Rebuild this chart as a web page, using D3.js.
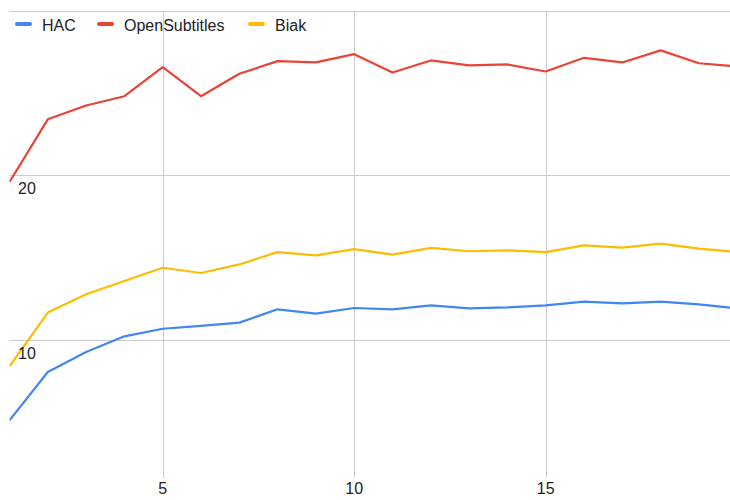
<!DOCTYPE html>
<html>
<head>
<meta charset="utf-8">
<script src="https://cdn.jsdelivr.net/npm/d3@7"></script>
<style>
  html, body { margin: 0; padding: 0; background: #fff; }
  svg { display: block; font-family: Arial, "Liberation Sans", sans-serif; }
</style>
</head>
<body>
<svg id="chart" width="730" height="500"></svg>
<script>
// ---- data ----
const xValues = [1,2,3,4,5,6,7,8,9,10,11,12,13,14,15,16,17,18,19,20];
const seriesNames = ["HAC", "OpenSubtitles", "Biak"];
const hac = [5.15, 8.08, 9.29, 10.24, 10.7, 10.87, 11.07, 11.88, 11.62, 11.96,
             11.88, 12.12, 11.94, 12.0, 12.12, 12.35, 12.24, 12.35, 12.18, 11.94];
const openSubtitles = [19.6, 23.4, 24.24, 24.8, 26.56, 24.8, 26.16, 26.93, 26.85, 27.35,
                       26.24, 26.97, 26.67, 26.73, 26.3, 27.13, 26.85, 27.58, 26.8, 26.6];
const biak = [8.42, 11.68, 12.79, 13.6, 14.4, 14.08, 14.6, 15.35, 15.15, 15.53,
              15.2, 15.6, 15.4, 15.45, 15.35, 15.76, 15.62, 15.86, 15.56, 15.36];
const xTicks = [5, 10, 15];
const yTicks = [10, 20, 30];
const yTickLabels = ["10", "20", ""];
const colors = ["#4285F4", "#EA4335", "#FBBC04"];

// ---- layout ----
const svg = d3.select("#chart");
const plotLeft = 9.5, plotTop = 10.5, plotBottom = 478;

const x = d3.scaleLinear().domain([1, 20]).range([plotLeft, plotLeft + 19 * 38.3]);
const y = d3.scaleLinear().domain([10, 30]).range([340.3, 10.5]);

// gridlines
const grid = svg.append("g");
grid.selectAll("line.h").data(yTicks).join("line")
  .attr("x1", plotLeft).attr("x2", 730)
  .attr("y1", d => Math.round(y(d)) + 0.5).attr("y2", d => Math.round(y(d)) + 0.5)
  .attr("stroke", "#cccccc").attr("stroke-width", 1);
grid.selectAll("line.v").data(xTicks).join("line")
  .attr("x1", d => Math.round(x(d)) + 0.5).attr("x2", d => Math.round(x(d)) + 0.5)
  .attr("y1", plotTop).attr("y2", plotBottom)
  .attr("stroke", "#cccccc").attr("stroke-width", 1);

// lines
const series = [hac, openSubtitles, biak];
const line = d3.line().x((d, i) => x(xValues[i])).y(d => y(d));
svg.append("defs").append("clipPath").attr("id", "clip")
  .append("rect").attr("x", plotLeft).attr("y", 0).attr("width", 730).attr("height", plotBottom);
const lines = svg.append("g").attr("clip-path", "url(#clip)");
series.forEach((s, k) => {
  lines.append("path").datum(s)
    .attr("d", line)
    .attr("fill", "none")
    .attr("stroke", colors[k])
    .attr("stroke-width", 2.2)
    .attr("stroke-linejoin", "round");
});

// y labels (inside)
svg.append("g").selectAll("text").data(yTicks).join("text")
  .attr("x", 18)
  .attr("y", d => y(d) + 18.5)
  .attr("font-size", 16)
  .attr("fill", "#222")
  .text((d, i) => yTickLabels[i]);

// x labels
svg.append("g").selectAll("text").data(xTicks).join("text")
  .attr("x", d => x(d))
  .attr("y", 493.5)
  .attr("text-anchor", "middle")
  .attr("font-size", 16)
  .attr("fill", "#222")
  .text(d => d);

// legend
const legendX = [15, 97, 248];
const legend = svg.append("g");
seriesNames.forEach((name, k) => {
  legend.append("rect")
    .attr("x", legendX[k]).attr("y", 22)
    .attr("width", 17).attr("height", 4).attr("rx", 2)
    .attr("fill", colors[k]);
  legend.append("text")
    .attr("x", legendX[k] + 27).attr("y", 30.5)
    .attr("font-size", 16)
    .attr("fill", "#222")
    .text(name);
});
</script>
</body>
</html>
